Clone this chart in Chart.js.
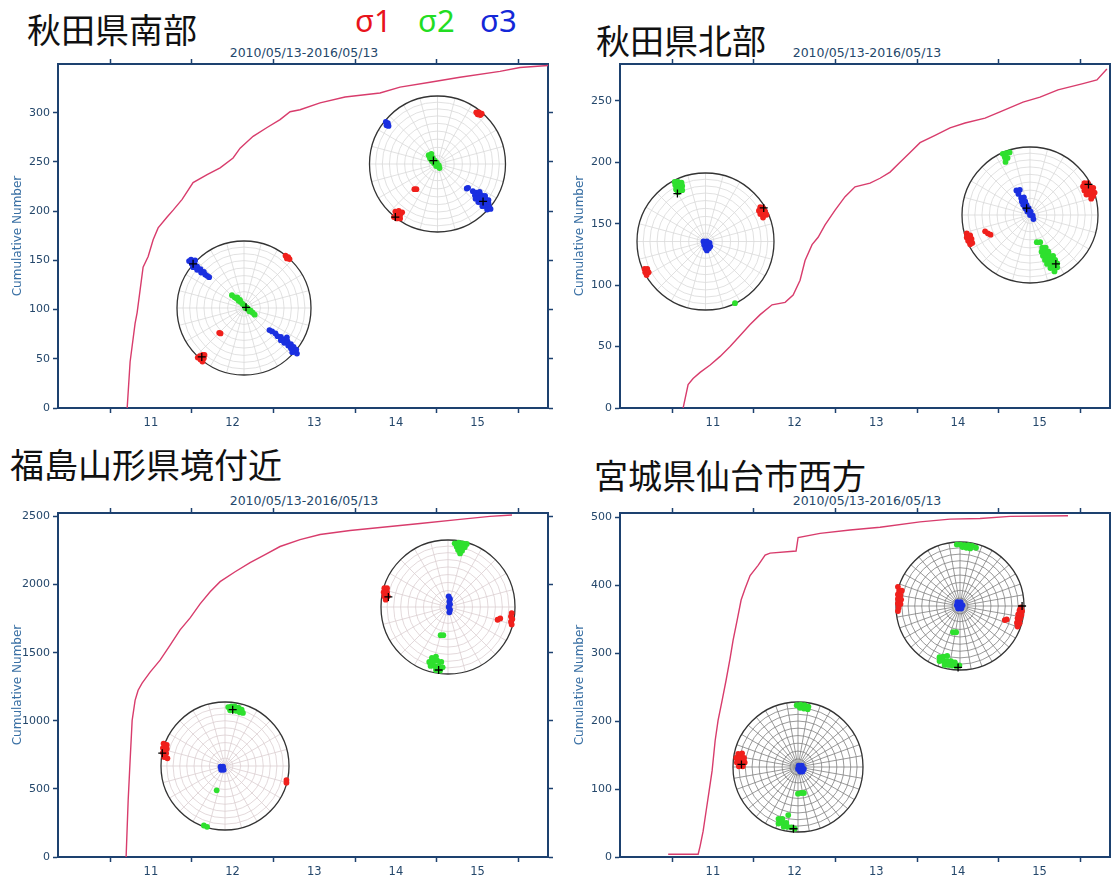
<!DOCTYPE html>
<html>
<head>
<meta charset="utf-8">
<script src="https://cdn.jsdelivr.net/npm/chart.js@4.4.0/dist/chart.umd.min.js"></script>
<style>
  body { margin: 0; width: 1111px; height: 877px; overflow: hidden; background: #fff; position: relative; }
  canvas { position: absolute; }
  .area { position: absolute; font-family: "Noto Sans CJK JP"; font-size: 34px; line-height: 1; color: #111; white-space: nowrap; }
  .period { position: absolute; font-family: "DejaVu Sans"; font-size: 12.5px; color: #24476b; transform: translateX(-50%); white-space: nowrap; }
  .sig { position: absolute; top: 5px; font-family: "Noto Sans"; font-size: 31px; line-height: 1; }
</style>
</head>
<body>
<div class="area" style="left:27px;top:12px">秋田県南部</div>
<div class="area" style="left:596px;top:23px">秋田県北部</div>
<div class="area" style="left:10px;top:447px">福島山形県境付近</div>
<div class="area" style="left:594px;top:458px">宮城県仙台市西方</div>
<div class="sig" style="left:355px;color:#e8141c">σ1</div>
<div class="sig" style="left:418px;color:#22dd22">σ2</div>
<div class="sig" style="left:480px;color:#1428d8">σ3</div>
<div class="period" style="left:304px;top:45px">2010/05/13-2016/05/13</div>
<div class="period" style="left:867px;top:45px">2010/05/13-2016/05/13</div>
<div class="period" style="left:304px;top:493px">2010/05/13-2016/05/13</div>
<div class="period" style="left:867px;top:493px">2010/05/13-2016/05/13</div>

<canvas id="akitaS" width="560" height="410" style="left:0;top:40px"></canvas>
<canvas id="akitaN" width="560" height="410" style="left:562px;top:40px"></canvas>
<canvas id="fukuYama" width="560" height="410" style="left:0;top:489px"></canvas>
<canvas id="sendai" width="560" height="410" style="left:562px;top:489px"></canvas>

<script>
// time axis: 2010/05/13 - 2016/05/13 in decimal years
const yearTicks = [2011.5, 2012.5, 2013.5, 2014.5, 2015.5];
const yearLabels = ['11', '12', '13', '14', '15'];

// count axis ticks per panel
const akitaSTicks = [0, 50, 100, 150, 200, 250, 300];
const akitaNTicks = [0, 50, 100, 150, 200, 250];
const fukuYamaTicks = [0, 500, 1000, 1500, 2000, 2500];
const sendaiTicks = [0, 100, 200, 300, 400, 500];

// cumulative event counts
const akitaSYears = [2011.209, 2011.245, 2011.306, 2011.331, 2011.404, 2011.466, 2011.527, 2011.588, 2011.698, 2011.772, 2011.882, 2012.016, 2012.188, 2012.347, 2012.506, 2012.592, 2012.751, 2012.922, 2013.081, 2013.204, 2013.326, 2013.571, 2013.877, 2014.305, 2014.550, 2014.917, 2015.284, 2015.774, 2016.019, 2016.362];
const akitaSCounts = [0, 47, 86, 97, 143, 154, 171, 183, 194, 201, 212, 229, 237, 244, 254, 264, 276, 285, 293, 301, 303, 310, 316, 320, 326, 331, 336, 342, 346, 348];

const akitaNYears = [2011.135, 2011.196, 2011.257, 2011.343, 2011.466, 2011.588, 2011.710, 2011.833, 2011.955, 2012.078, 2012.224, 2012.384, 2012.482, 2012.567, 2012.628, 2012.714, 2012.788, 2012.873, 2012.996, 2013.118, 2013.240, 2013.424, 2013.546, 2013.669, 2013.791, 2013.914, 2014.036, 2014.220, 2014.403, 2014.587, 2014.832, 2015.015, 2015.297, 2015.505, 2015.725, 2016.031, 2016.202, 2016.324];
const akitaNCounts = [0, 19, 24, 29, 35, 42, 50, 59, 68, 76, 84, 86, 92, 104, 120, 133, 139, 149, 161, 172, 180, 183, 187, 192, 200, 208, 216, 222, 228, 232, 236, 241, 249, 253, 259, 264, 267, 276];

const fukuYamaYears = [2011.196, 2011.221, 2011.245, 2011.270, 2011.306, 2011.343, 2011.392, 2011.490, 2011.612, 2011.735, 2011.857, 2011.980, 2012.102, 2012.225, 2012.347, 2012.531, 2012.714, 2012.898, 2013.081, 2013.326, 2013.571, 2013.938, 2014.305, 2014.795, 2015.284, 2015.651, 2015.921];
const fukuYamaCounts = [0, 413, 708, 1003, 1150, 1224, 1276, 1357, 1445, 1556, 1667, 1755, 1858, 1947, 2021, 2094, 2161, 2220, 2279, 2330, 2367, 2397, 2419, 2448, 2478, 2500, 2510];

const sendaiYears = [2010.952, 2011.319, 2011.343, 2011.380, 2011.417, 2011.453, 2011.490, 2011.527, 2011.563, 2011.612, 2011.661, 2011.710, 2011.747, 2011.796, 2011.845, 2011.894, 2011.955, 2012.053, 2012.139, 2012.200, 2012.518, 2012.543, 2012.812, 2013.179, 2013.546, 2014.036, 2014.403, 2014.770, 2015.138, 2015.848];
const sendaiCounts = [4, 4, 16, 38, 68, 97, 127, 171, 201, 230, 260, 292, 319, 348, 378, 395, 414, 429, 444, 447, 450, 470, 476, 481, 485, 493, 497, 498, 501, 502];

// stress axes on the lower-hemisphere net (x = east, y = north, unit = net radius)
const akitaS1Red = [[0.62,0.78],[0.66,0.76],[0.64,0.74],[0.68,0.73],[-0.66,-0.72],[-0.62,-0.70],[-0.60,-0.75],[-0.65,-0.77],[-0.62,-0.80],[-0.69,-0.74],[-0.59,-0.70],[-0.37,-0.37],[-0.35,-0.38]];
const akitaS1Green = [[-0.18,0.19],[-0.14,0.16],[-0.11,0.14],[-0.08,0.11],[-0.05,0.09],[-0.02,0.06],[0.01,0.03],[0.04,0.01],[0.07,-0.02],[0.10,-0.04],[0.13,-0.07],[0.16,-0.10],[-0.06,0.12],[0.02,0.00],[0.08,-0.05],[-0.10,0.16]];
const akitaS1Blue = [[-0.82,0.70],[-0.78,0.66],[-0.74,0.66],[-0.76,0.61],[-0.70,0.62],[-0.70,0.57],[-0.65,0.58],[-0.64,0.53],[-0.60,0.54],[-0.58,0.50],[-0.55,0.48],[-0.52,0.46],[-0.79,0.72],[-0.73,0.71],
  [0.38,-0.33],[0.42,-0.35],[0.47,-0.38],[0.50,-0.42],[0.55,-0.43],[0.55,-0.48],[0.60,-0.47],[0.60,-0.52],[0.65,-0.50],[0.66,-0.56],[0.70,-0.54],[0.70,-0.60],[0.74,-0.58],[0.75,-0.63],[0.78,-0.62],[0.79,-0.68],[0.64,-0.44],[0.72,-0.66]];
const akitaS1Marks = [[0.03,0.01],[-0.76,0.66],[-0.63,-0.73]];

const akitaS2Red = [[0.57,0.76],[0.61,0.76],[0.65,0.74],[0.59,0.73],[0.63,0.72],[-0.62,-0.70],[-0.57,-0.69],[-0.52,-0.71],[-0.60,-0.75],[-0.55,-0.75],[-0.60,-0.80],[-0.55,-0.80],[-0.64,-0.78],[-0.34,-0.37],[-0.31,-0.37]];
const akitaS2Green = [[-0.13,0.13],[-0.10,0.12],[-0.11,0.08],[-0.07,0.09],[-0.08,0.04],[-0.04,0.05],[-0.05,0.01],[-0.01,0.02],[-0.02,-0.03],[0.02,-0.02],[0.03,-0.06],[-0.09,0.15]];
const akitaS2Blue = [[-0.76,0.62],[-0.73,0.60],[-0.75,0.57],[-0.72,0.56],
  [0.52,-0.40],[0.57,-0.42],[0.62,-0.41],[0.55,-0.46],[0.60,-0.46],[0.65,-0.46],[0.70,-0.47],[0.56,-0.51],[0.61,-0.51],[0.66,-0.52],[0.71,-0.52],[0.75,-0.53],[0.60,-0.56],[0.65,-0.57],[0.70,-0.57],[0.75,-0.58],[0.66,-0.62],[0.71,-0.62],[0.76,-0.63],[0.73,-0.67],[0.78,-0.66],[0.43,-0.36],[0.45,-0.35]];
const akitaS2Marks = [[-0.06,0.05],[0.67,-0.55],[-0.62,-0.78]];

const akitaN1Red = [[0.80,0.50],[0.84,0.49],[0.78,0.45],[0.83,0.44],[0.87,0.44],[0.80,0.40],[0.85,0.39],[0.89,0.39],[0.84,0.35],[-0.89,-0.40],[-0.85,-0.40],[-0.88,-0.45],[-0.83,-0.45],[-0.86,-0.49]];
const akitaN1Green = [[-0.45,0.87],[-0.40,0.87],[-0.35,0.86],[-0.44,0.82],[-0.39,0.81],[-0.34,0.81],[-0.43,0.76],[-0.38,0.76],[-0.34,0.75],[-0.40,0.72],[0.43,-0.90]];
const akitaN1Blue = [[-0.03,0.00],[0.02,0.00],[0.06,-0.02],[-0.02,-0.05],[0.03,-0.05],[0.07,-0.07],[0.00,-0.10],[0.05,-0.10],[0.02,-0.13]];
const akitaN1Marks = [[-0.41,0.70],[0.85,0.49]];

const akitaN2Red = [[0.80,0.47],[0.85,0.47],[0.78,0.42],[0.83,0.42],[0.88,0.42],[0.93,0.40],[0.80,0.36],[0.85,0.36],[0.90,0.35],[0.95,0.33],[0.83,0.30],[0.88,0.30],[0.93,0.28],[0.90,0.24],
  [-0.93,-0.27],[-0.88,-0.30],[-0.93,-0.33],[-0.86,-0.35],[-0.91,-0.38],[-0.85,-0.41],[-0.88,-0.43],[-0.66,-0.24],[-0.62,-0.27],[-0.58,-0.29]];
const akitaN2Green = [[-0.40,0.90],[-0.35,0.91],[-0.30,0.92],[-0.37,0.85],[-0.33,0.84],[-0.36,0.78],
  [0.10,-0.40],[0.15,-0.40],[0.18,-0.48],[0.23,-0.48],[0.17,-0.54],[0.22,-0.54],[0.27,-0.54],[0.19,-0.60],[0.24,-0.60],[0.29,-0.60],[0.34,-0.60],[0.22,-0.66],[0.27,-0.66],[0.32,-0.66],[0.37,-0.66],[0.25,-0.72],[0.30,-0.72],[0.35,-0.72],[0.40,-0.71],[0.30,-0.78],[0.35,-0.78],[0.40,-0.77],[0.36,-0.83]];
const akitaN2Blue = [[-0.20,0.36],[-0.15,0.37],[-0.17,0.31],[-0.13,0.25],[-0.09,0.26],[-0.12,0.20],[-0.07,0.20],[-0.10,0.15],[-0.05,0.15],[-0.07,0.10],[-0.02,0.10],[-0.04,0.05],[0.01,0.05],[0.00,0.00],[0.04,-0.01],[0.05,-0.06]];
const akitaN2Marks = [[-0.05,0.10],[0.86,0.45],[0.38,-0.72]];

const fukuYama1Red = [[-0.95,0.28],[-0.91,0.28],[-0.96,0.22],[-0.91,0.22],[-0.95,0.16],[-0.90,0.16],[-0.93,0.11],[0.95,-0.09],[0.94,-0.14],[0.96,-0.18],[0.94,-0.22],[0.95,-0.26],[0.74,-0.19],[0.78,-0.17]];
const fukuYama1Green = [[0.10,0.95],[0.16,0.96],[0.22,0.95],[0.28,0.94],[0.13,0.90],[0.19,0.90],[0.25,0.89],[0.15,0.85],[0.21,0.84],[0.18,0.80],
  [-0.24,-0.76],[-0.18,-0.74],[-0.28,-0.82],[-0.22,-0.81],[-0.16,-0.80],[-0.10,-0.82],[-0.26,-0.88],[-0.20,-0.88],[-0.14,-0.88],[-0.08,-0.90],[-0.18,-0.94],[-0.12,-0.95],[-0.11,-0.42],[-0.07,-0.42]];
const fukuYama1Blue = [[0.01,0.16],[0.03,0.12],[0.02,0.08],[0.03,0.04],[0.01,0.00],[0.03,-0.04],[0.02,-0.08]];
const fukuYama1Marks = [[-0.89,0.15],[-0.14,-0.94]];

const fukuYama2Red = [[-0.96,0.35],[-0.91,0.33],[-0.97,0.28],[-0.91,0.27],[-0.97,0.21],[-0.92,0.20],[-0.95,0.14],[-0.90,0.12],[0.96,-0.22],[0.96,-0.26]];
const fukuYama2Green = [[0.05,0.92],[0.10,0.93],[0.15,0.93],[0.21,0.91],[0.26,0.88],[0.08,0.87],[0.13,0.87],[0.18,0.86],[0.23,0.84],[0.28,0.83],[-0.33,-0.93],[-0.28,-0.95],[-0.13,-0.38]];
const fukuYama2Blue = [[-0.07,-0.01],[-0.03,-0.01],[-0.06,-0.06],[-0.02,-0.06]];
const fukuYama2Marks = [[0.12,0.88],[-0.98,0.20]];

const sendai1Red = [[-0.97,0.30],[-0.95,0.24],[-0.91,0.24],[-0.97,0.18],[-0.93,0.17],[-0.97,0.11],[-0.92,0.10],[-0.97,0.04],[-0.93,0.03],[-0.96,-0.03],[-0.97,-0.08],
  [0.95,-0.02],[0.93,-0.07],[0.97,-0.08],[0.91,-0.13],[0.96,-0.14],[0.90,-0.19],[0.94,-0.20],[0.89,-0.26],[0.93,-0.27],[0.90,-0.32],[0.70,-0.22],[0.73,-0.21]];
const sendai1Green = [[-0.05,0.96],[0.01,0.96],[0.07,0.95],[0.13,0.95],[0.19,0.94],[0.25,0.91],[0.04,0.92],[0.10,0.91],[0.16,0.90],
  [-0.32,-0.80],[-0.26,-0.79],[-0.20,-0.78],[-0.32,-0.86],[-0.26,-0.86],[-0.20,-0.86],[-0.14,-0.86],[-0.08,-0.88],[-0.24,-0.92],[-0.18,-0.92],[-0.12,-0.93],[-0.06,-0.94],[-0.01,-0.93],[-0.11,-0.41],[-0.06,-0.41]];
const sendai1Blue = [[-0.04,0.06],[0.01,0.06],[-0.05,0.01],[0.00,0.01],[0.04,0.01],[-0.03,-0.04],[0.02,-0.04]];
const sendai1Marks = [[0.97,0.00],[-0.03,-0.96]];

const sendai2Red = [[-0.92,0.20],[-0.86,0.21],[-0.95,0.14],[-0.89,0.14],[-0.83,0.14],[-0.94,0.07],[-0.88,0.07],[-0.82,0.07],[-0.91,0.01],[-0.85,0.01]];
const sendai2Green = [[-0.02,0.95],[0.04,0.96],[0.10,0.95],[0.16,0.93],[0.03,0.91],[0.09,0.90],[0.15,0.89],[0.00,-0.41],[0.05,-0.40],[0.09,-0.40],
  [-0.30,-0.80],[-0.24,-0.80],[-0.30,-0.87],[-0.24,-0.86],[-0.18,-0.86],[-0.22,-0.92],[-0.16,-0.92],[-0.10,-0.93],[-0.05,-0.95],[-0.15,-0.74]];
const sendai2Blue = [[0.01,0.02],[0.06,0.02],[0.00,-0.03],[0.05,-0.03],[0.09,-0.03],[0.03,-0.07],[0.07,-0.07]];
const sendai2Marks = [[-0.87,0.04],[-0.07,-0.95]];

const START = 2010.362, END = 2016.362;
const NAVY = '#1d416f';
const TEXT = '#24476b';
const CURVE = '#d83c6c';
const RED = '#f0201c', GREEN = '#2ee02e', BLUE = '#1a2fe0';

// every panel canvas uses the same fixed plot box
const AREA = { left: 58, top: 24, right: 548, bottom: 368 };

const xy = pts => pts.map(([x, y]) => ({ x, y }));

// polar net: rings every 10 degrees of plunge (equal-area) plus spokes
const stereonet = {
  id: 'stereonet',
  beforeDatasetsDraw(chart, args, opts) {
    const ctx = chart.ctx;
    for (const id of opts.nets) {
      const xs = chart.scales['xn' + id], ys = chart.scales['yn' + id];
      const cx = xs.getPixelForValue(0), cy = ys.getPixelForValue(0);
      const r = xs.getPixelForValue(1) - cx;
      ctx.save();
      ctx.fillStyle = '#fff';
      ctx.beginPath(); ctx.arc(cx, cy, r, 0, Math.PI * 2); ctx.fill();
      ctx.strokeStyle = opts.ring;
      ctx.lineWidth = opts.ringWidth;
      for (let p = 10; p < 90; p += 10) {
        const rr = r * Math.SQRT2 * Math.sin((90 - p) / 2 * Math.PI / 180);
        ctx.beginPath(); ctx.arc(cx, cy, rr, 0, Math.PI * 2); ctx.stroke();
      }
      for (let a = 0; a < 360; a += opts.spoke) {
        const t = a * Math.PI / 180;
        ctx.beginPath();
        ctx.moveTo(cx, cy);
        ctx.lineTo(cx + r * Math.cos(t), cy + r * Math.sin(t));
        ctx.stroke();
      }
      ctx.strokeStyle = '#333';
      ctx.lineWidth = 1.3;
      ctx.beginPath(); ctx.arc(cx, cy, r, 0, Math.PI * 2); ctx.stroke();
      ctx.restore();
    }
  }
};

function netScales(id, cx, cy, r) {
  return {
    ['xn' + id]: { type: 'linear', display: false, min: (AREA.left - cx) / r, max: (AREA.right - cx) / r },
    ['yn' + id]: { type: 'linear', display: false, min: (cy - AREA.bottom) / r, max: (cy - AREA.top) / r }
  };
}

function netDatasets(id, red, green, blue, marks) {
  const axes = { xAxisID: 'xn' + id, yAxisID: 'yn' + id };
  const cloud = (pts, color) => ({ ...axes, data: xy(pts), backgroundColor: color, borderWidth: 0, pointRadius: 2.9, order: 1 });
  return [
    { ...axes, data: xy(marks), pointStyle: 'cross', pointRadius: 4, borderColor: '#000', borderWidth: 1.3, order: 0 },
    cloud(red, RED), cloud(green, GREEN), cloud(blue, BLUE)
  ];
}

function drawPanel(canvasId, years, counts, yMax, countTicks, nets, ring, spoke) {
  const frame = { display: true, color: NAVY, width: 2 };
  const marks = { drawOnChartArea: false, drawTicks: true, tickLength: 5, tickColor: NAVY, tickWidth: 1.5 };
  const yearAxis = (position, labels, height) => ({
    type: 'linear', position, min: START, max: END,
    afterBuildTicks: s => { s.ticks = yearTicks.map(v => ({ value: v })); },
    ticks: { display: labels, callback: (v, i) => yearLabels[i], color: TEXT, padding: 3, maxRotation: 0, autoSkip: false,
             font: { family: 'DejaVu Sans', size: 11.5 } },
    grid: { ...marks, offset: true },
    border: frame,
    afterFit: s => { s.height = height; }
  });
  const countAxis = (position, labels, width) => ({
    type: 'linear', position, min: 0, max: yMax,
    afterBuildTicks: s => { s.ticks = countTicks.map(v => ({ value: v })); },
    ticks: { display: labels, callback: v => String(v), color: TEXT, padding: 3, autoSkip: false,
             font: { family: 'DejaVu Sans', size: 11 } },
    grid: marks,
    border: frame,
    afterFit: s => { s.width = width; }
  });

  let scales = {
    x: yearAxis('bottom', true, 42),
    xt: yearAxis('top', false, 24),
    y: { ...countAxis('left', true, 58),
         title: { display: true, text: 'Cumulative Number', color: '#3a70a4', padding: { top: 11, bottom: 0 },
                  font: { family: 'DejaVu Sans', size: 12 } } },
    yr: countAxis('right', false, 12)
  };
  let datasets = [{
    data: years.map((x, i) => ({ x, y: counts[i] })),
    showLine: true, borderColor: CURVE, borderWidth: 1.4, pointRadius: 0, xAxisID: 'x', yAxisID: 'y', order: 2
  }];
  for (const n of nets) {
    Object.assign(scales, netScales(n.id, n.cx, n.cy, n.r));
    datasets = datasets.concat(netDatasets(n.id, n.red, n.green, n.blue, n.marks));
  }

  new Chart(document.getElementById(canvasId), {
    type: 'scatter',
    data: { datasets },
    options: {
      responsive: false,
      animation: false,
      events: [],
      layout: { padding: 0 },
      scales,
      plugins: {
        legend: { display: false },
        tooltip: { enabled: false },
        stereonet: { nets: nets.map(n => n.id), ring, ringWidth: 0.8, spoke }
      }
    },
    plugins: [stereonet]
  });
}

drawPanel('akitaS', akitaSYears, akitaSCounts, 349.5, akitaSTicks, [
  { id: 'a', cx: 244, cy: 268, r: 67, red: akitaS1Red, green: akitaS1Green, blue: akitaS1Blue, marks: akitaS1Marks },
  { id: 'b', cx: 437.5, cy: 124, r: 68, red: akitaS2Red, green: akitaS2Green, blue: akitaS2Blue, marks: akitaS2Marks }
], '#d9d9d9', 15);

drawPanel('akitaN', akitaNYears, akitaNCounts, 280, akitaNTicks, [
  { id: 'a', cx: 143.5, cy: 201.5, r: 68.5, red: akitaN1Red, green: akitaN1Green, blue: akitaN1Blue, marks: akitaN1Marks },
  { id: 'b', cx: 468, cy: 175, r: 68, red: akitaN2Red, green: akitaN2Green, blue: akitaN2Blue, marks: akitaN2Marks }
], '#d9d9d9', 15);

drawPanel('fukuYama', fukuYamaYears, fukuYamaCounts, 2525, fukuYamaTicks, [
  { id: 'a', cx: 448, cy: 118, r: 67, red: fukuYama1Red, green: fukuYama1Green, blue: fukuYama1Blue, marks: fukuYama1Marks },
  { id: 'b', cx: 225, cy: 277, r: 64, red: fukuYama2Red, green: fukuYama2Green, blue: fukuYama2Blue, marks: fukuYama2Marks }
], '#dccfd2', 15);

drawPanel('sendai', sendaiYears, sendaiCounts, 506, sendaiTicks, [
  { id: 'a', cx: 398, cy: 117, r: 64, red: sendai1Red, green: sendai1Green, blue: sendai1Blue, marks: sendai1Marks },
  { id: 'b', cx: 236, cy: 278, r: 65, red: sendai2Red, green: sendai2Green, blue: sendai2Blue, marks: sendai2Marks }
], '#808080', 10);
</script>
</body>
</html>
